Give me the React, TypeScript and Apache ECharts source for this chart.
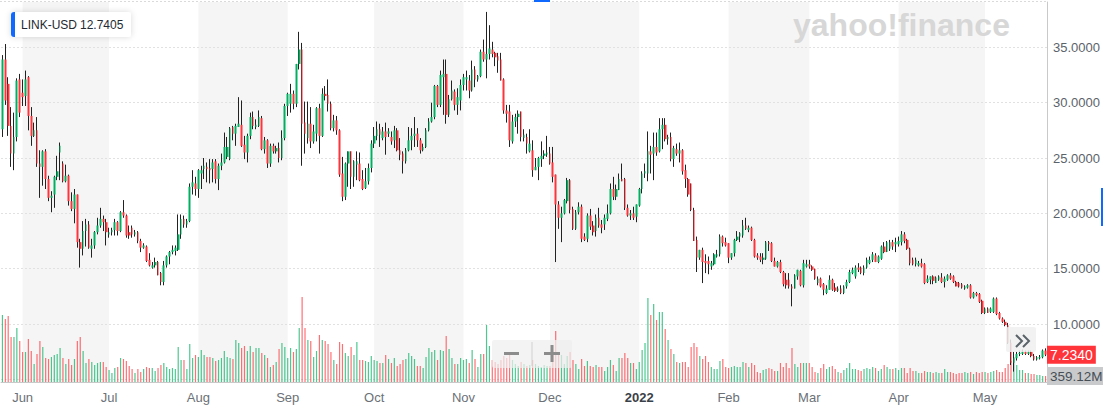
import React, { useEffect, useRef } from "react";
import * as echarts from "echarts";

// Each row: [open, close, low, high, volume (millions USD)]
type Row = [number, number, number, number, number];

const may21: Row[] = [
  [27.6, 33.9, 26.9, 34.3, 4020], [33.9, 30.2, 29.8, 35.3, 3780], [31.7, 27.9, 27.0, 32.3, 3960],
  [27.9, 25.4, 24.2, 29.6, 2700], [25.4, 26.9, 23.9, 29.1, 2700], [26.9, 32.0, 26.5, 32.2, 3240],
  [32.1, 29.1, 28.7, 32.6, 2460],
];
const jun21: Row[] = [
  [30.9, 30.5, 29.7, 32.1, 1800], [30.6, 32.1, 29.7, 32.9, 1800], [32.3, 28.8, 27.5, 32.4, 2580],
  [28.8, 27.0, 26.1, 29.6, 1860], [27.0, 27.5, 26.9, 28.2, 1080], [27.5, 24.5, 24.2, 28.7, 1680],
  [24.5, 24.2, 21.4, 25.7, 2460], [24.2, 25.6, 22.5, 25.7, 2100], [25.6, 23.1, 22.2, 25.8, 1440],
  [23.1, 21.4, 21.1, 23.4, 1380], [21.4, 21.6, 20.1, 22.0, 1500], [21.7, 23.3, 20.5, 23.4, 1620],
  [23.3, 23.8, 23.0, 25.2, 1680], [25.5, 26.1, 23.0, 26.4, 2040], [24.5, 22.9, 22.8, 24.7, 1440],
  [22.9, 23.4, 22.8, 24.4, 1080], [23.4, 21.1, 20.7, 23.5, 1380], [21.1, 20.4, 20.2, 21.9, 1020],
  [20.4, 21.7, 19.1, 22.2, 1380], [21.7, 17.4, 16.9, 21.7, 2460], [17.4, 16.8, 15.1, 17.7, 2700],
  [16.8, 18.4, 16.2, 19.3, 1860], [18.4, 19.0, 17.0, 19.5, 1140], [19.0, 16.9, 16.8, 19.3, 1380],
  [16.8, 17.1, 16.0, 17.7, 1200], [17.1, 18.3, 16.8, 18.4, 1020], [18.3, 18.9, 18.1, 19.6, 1140],
  [18.9, 19.5, 18.7, 20.5, 1200], [19.5, 19.2, 18.4, 19.8, 1200], [19.2, 18.3, 17.1, 19.5, 900],
];
const jul21: Row[] = [
  [18.1, 18.3, 17.8, 18.7, 720], [18.3, 18.5, 18.0, 18.7, 540], [18.5, 19.2, 18.0, 19.5, 840],
  [19.2, 18.4, 18.0, 19.3, 900], [18.4, 20.1, 18.3, 20.2, 1440], [20.1, 19.8, 19.6, 21.2, 1380],
  [19.8, 18.0, 17.8, 19.9, 1260], [18.3, 18.0, 17.7, 18.9, 960], [18.7, 18.1, 17.8, 18.9, 780],
  [18.1, 18.3, 17.9, 18.5, 540], [18.3, 17.5, 17.3, 18.4, 780], [17.5, 16.9, 16.5, 17.7, 600],
  [16.9, 17.1, 16.8, 17.3, 780], [17.0, 15.7, 15.6, 17.1, 900], [15.8, 15.3, 15.2, 16.4, 840],
  [15.1, 15.3, 15.0, 15.6, 840], [15.3, 15.6, 15.1, 16.0, 660], [15.6, 14.4, 14.4, 15.7, 840],
  [14.6, 13.8, 13.5, 14.7, 1020], [13.8, 15.3, 13.5, 15.7, 1140], [15.3, 16.1, 15.1, 16.2, 900],
  [16.1, 16.5, 15.4, 16.6, 780], [16.5, 16.7, 16.3, 17.1, 840], [16.6, 16.9, 16.2, 17.1, 780],
  [16.7, 18.1, 16.6, 19.9, 2100], [18.1, 19.5, 17.7, 19.9, 1320], [19.5, 19.0, 18.7, 19.8, 1320],
  [19.0, 19.3, 18.7, 19.5, 780], [19.3, 22.4, 19.2, 22.7, 2280], [22.4, 22.8, 21.7, 23.9, 1440],
  [22.7, 22.2, 21.6, 23.3, 1620],
];
const aug21: Row[] = [
  [22.2, 23.9, 21.4, 24.0, 1500], [23.6, 23.9, 22.2, 24.3, 1920], [24.0, 24.3, 23.1, 25.0, 1620],
  [24.2, 24.0, 22.8, 24.6, 1500], [24.1, 23.9, 22.7, 24.9, 1500], [24.0, 24.6, 22.8, 24.9, 1440],
  [24.7, 23.1, 22.7, 24.9, 1260], [23.1, 24.3, 22.1, 24.5, 1320], [24.3, 24.6, 23.9, 25.4, 1440],
  [24.6, 26.0, 24.5, 27.3, 1860], [25.1, 26.0, 24.9, 26.9, 1500], [24.9, 27.7, 24.8, 27.8, 1440],
  [27.8, 27.2, 26.6, 27.9, 1380], [27.2, 27.9, 26.1, 28.1, 2520], [27.8, 28.1, 27.8, 30.5, 2340],
  [28.0, 26.1, 26.0, 30.2, 2040], [26.2, 25.5, 24.9, 27.0, 2160], [25.5, 27.0, 24.6, 27.2, 1860],
  [27.0, 28.7, 26.7, 29.1, 2160], [28.7, 27.9, 27.6, 29.2, 1800], [27.8, 28.0, 27.6, 28.5, 2040],
  [27.9, 28.7, 27.8, 29.3, 2040], [28.6, 25.8, 25.7, 28.8, 1740], [25.8, 26.6, 25.4, 26.9, 1620],
  [26.6, 24.5, 24.1, 26.7, 1440], [24.5, 26.1, 24.2, 26.3, 900], [26.1, 25.6, 25.4, 26.3, 1020],
  [25.6, 25.9, 25.4, 26.1, 1200], [25.9, 25.0, 24.6, 26.4, 1980], [25.0, 26.8, 24.8, 27.5, 2340],
  [26.8, 29.7, 26.6, 29.9, 2100],
];
const sep21: Row[] = [
  [29.7, 30.8, 28.8, 30.9, 1440], [29.9, 30.8, 29.1, 31.7, 2040], [30.8, 29.9, 29.4, 31.1, 1800],
  [29.9, 33.5, 29.6, 33.5, 1980], [33.5, 34.8, 33.0, 36.4, 3240], [34.8, 28.1, 24.3, 35.4, 5100],
  [28.2, 27.2, 25.4, 30.1, 3240], [26.8, 28.1, 26.3, 30.1, 2520], [28.1, 26.5, 25.9, 29.6, 2460],
  [26.5, 27.4, 26.3, 28.0, 1500], [27.2, 29.5, 26.5, 29.6, 1860], [29.5, 27.0, 25.4, 29.9, 2820],
  [27.0, 30.8, 26.9, 31.3, 2520], [30.8, 30.6, 30.2, 31.5, 2460], [30.7, 29.9, 29.2, 32.1, 2280],
  [29.9, 27.7, 27.5, 30.1, 1800], [27.7, 28.4, 27.4, 28.9, 1320], [28.4, 27.5, 27.1, 28.8, 1080],
  [27.5, 23.5, 23.3, 27.6, 2400], [23.6, 21.5, 21.1, 25.1, 2280], [21.5, 24.5, 21.2, 24.6, 1740],
  [24.5, 25.6, 22.4, 25.6, 1560], [25.6, 23.3, 22.2, 25.6, 2100], [23.3, 24.7, 22.4, 24.8, 1620],
  [24.4, 24.7, 23.0, 25.6, 2400], [24.5, 23.0, 22.9, 25.5, 1320], [23.1, 22.2, 22.1, 23.9, 1320],
  [22.3, 22.9, 22.2, 24.1, 1260], [22.9, 24.1, 22.6, 24.5, 1200], [24.1, 26.3, 23.7, 26.6, 1560],
];
const oct21: Row[] = [
  [26.3, 27.0, 25.9, 27.8, 1320], [27.0, 27.6, 26.6, 28.3, 1260], [27.6, 27.1, 26.0, 28.1, 1140],
  [26.8, 27.4, 26.6, 27.8, 1140], [27.4, 26.9, 25.3, 28.2, 1620], [27.2, 27.4, 26.9, 27.7, 1380],
  [26.9, 26.5, 26.2, 27.4, 1140], [26.6, 27.5, 25.9, 27.9, 1440], [27.5, 25.7, 25.6, 27.7, 960],
  [25.7, 25.3, 24.8, 26.8, 1080], [25.4, 24.7, 23.6, 25.6, 1320], [24.7, 25.7, 24.5, 25.9, 1380],
  [25.7, 26.6, 25.6, 27.8, 1740], [26.6, 27.0, 25.7, 27.7, 1560], [27.0, 27.2, 26.0, 28.7, 1380],
  [27.2, 26.6, 26.0, 27.7, 960], [26.6, 25.7, 25.4, 26.8, 960], [25.7, 26.0, 25.6, 26.3, 840],
  [26.0, 27.5, 25.9, 27.7, 1500], [27.5, 28.3, 27.4, 28.6, 2040], [28.3, 28.7, 28.2, 30.0, 1800],
  [28.7, 31.5, 28.5, 31.6, 1920], [31.5, 29.8, 29.6, 31.6, 1320], [29.8, 32.5, 29.6, 32.9, 1920],
  [32.3, 32.6, 28.9, 33.9, 1860], [32.6, 28.9, 28.1, 33.9, 2760], [28.9, 30.3, 28.7, 30.7, 1980],
  [30.3, 31.1, 30.2, 32.0, 1440], [31.0, 29.8, 29.3, 31.2, 1080], [29.8, 30.5, 28.9, 31.3, 1080],
  [30.2, 31.6, 29.3, 32.1, 1440],
];
const nov21: Row[] = [
  [31.6, 32.3, 31.1, 32.6, 1320], [32.1, 32.3, 31.1, 32.9, 1380], [32.0, 31.1, 30.4, 32.5, 1140],
  [31.1, 33.0, 31.0, 33.8, 1920], [33.0, 32.1, 31.4, 33.3, 1380], [32.1, 32.4, 31.9, 32.5, 900],
  [32.4, 34.6, 32.3, 34.8, 1680], [34.6, 33.9, 33.7, 35.7, 1680], [33.9, 34.4, 32.2, 38.2, 3420],
  [34.4, 34.9, 33.9, 37.0, 2160], [34.8, 34.4, 34.1, 35.5, 1320], [34.5, 34.1, 33.3, 34.6, 1200],
  [34.2, 33.8, 32.7, 34.5, 1080], [33.9, 32.0, 32.0, 34.5, 1320], [32.1, 29.3, 29.0, 32.2, 1560],
  [29.3, 29.0, 28.2, 29.8, 1440], [29.2, 26.6, 26.0, 29.8, 1680], [26.5, 28.3, 26.3, 28.9, 1320],
  [28.3, 28.7, 27.8, 29.0, 1080], [28.7, 29.0, 27.2, 29.3, 960], [29.2, 26.9, 26.5, 29.2, 1200],
  [26.8, 27.1, 26.5, 27.6, 1080], [26.9, 26.3, 25.4, 27.2, 960], [25.6, 26.3, 25.5, 27.6, 1020],
  [25.7, 23.9, 23.3, 26.6, 1320], [23.9, 24.2, 23.9, 25.0, 1080], [24.2, 25.0, 23.0, 25.1, 960],
  [24.9, 25.2, 24.2, 26.5, 900], [25.2, 25.4, 24.9, 25.7, 1020], [25.3, 25.5, 25.1, 27.0, 960],
];
const dec21: Row[] = [
  [25.4, 24.5, 24.4, 26.0, 960], [24.6, 23.3, 22.8, 26.0, 1740], [23.5, 20.8, 15.6, 23.5, 3060],
  [20.8, 19.6, 18.6, 21.1, 1740], [19.6, 20.0, 17.4, 20.6, 1620], [20.0, 21.2, 19.9, 21.3, 1080],
  [21.1, 23.0, 20.9, 23.2, 1560], [23.0, 20.3, 20.0, 23.1, 1800], [20.4, 18.6, 18.5, 20.6, 1320],
  [18.6, 20.1, 18.5, 20.3, 1080], [20.1, 20.6, 19.9, 21.0, 780], [20.6, 17.7, 17.4, 20.8, 1380],
  [17.9, 17.6, 17.5, 18.2, 960], [17.7, 19.8, 17.4, 20.0, 1260], [19.8, 18.8, 18.5, 20.4, 960],
  [18.9, 18.3, 18.0, 19.3, 900], [18.4, 19.6, 17.9, 19.9, 1020], [19.6, 18.9, 18.7, 20.5, 900],
  [19.0, 18.7, 18.2, 19.4, 900], [19.0, 19.6, 18.5, 19.9, 660], [19.5, 20.0, 19.3, 20.8, 900],
  [20.0, 22.2, 19.9, 22.7, 1320], [22.2, 21.5, 21.2, 23.3, 1020], [21.5, 22.2, 21.2, 22.6, 660],
  [22.1, 23.1, 22.1, 23.6, 1440], [23.1, 22.9, 22.9, 24.5, 1440], [23.1, 20.5, 20.3, 23.2, 1740],
  [20.5, 19.8, 19.7, 20.8, 1440], [19.8, 20.0, 19.4, 20.3, 1140], [20.0, 19.6, 19.4, 20.6, 1140],
  [19.7, 20.8, 19.2, 20.8, 780],
];
const jan22: Row[] = [
  [20.7, 22.2, 20.6, 22.3, 1200], [22.2, 23.6, 21.8, 23.8, 1920], [23.6, 23.8, 23.2, 24.5, 2340],
  [23.6, 25.6, 22.9, 27.4, 5040], [25.6, 25.3, 23.6, 26.1, 4020], [25.4, 26.0, 23.0, 27.3, 4680],
  [26.0, 25.5, 25.2, 27.3, 3720], [25.6, 27.6, 25.5, 28.6, 4200], [27.6, 28.0, 25.8, 28.6, 4200],
  [28.0, 26.7, 26.5, 28.6, 3180], [26.7, 26.9, 26.2, 27.1, 2520], [26.9, 24.9, 24.7, 27.3, 1980],
  [24.9, 25.9, 24.2, 26.1, 1680], [25.8, 25.4, 25.2, 26.3, 1200], [25.4, 25.7, 24.6, 26.4, 1140],
  [25.7, 23.8, 23.5, 25.8, 1200], [23.9, 23.1, 22.3, 24.4, 1200], [23.1, 21.7, 21.5, 23.2, 900],
  [22.7, 20.3, 20.2, 22.7, 2100], [20.3, 17.5, 17.5, 20.5, 2340], [17.6, 16.0, 14.7, 17.9, 2100],
  [16.0, 16.7, 15.8, 16.7, 1560], [16.7, 15.6, 13.7, 16.9, 1380], [15.7, 15.5, 14.6, 16.3, 1560],
  [15.7, 15.4, 14.5, 16.1, 1200], [15.2, 15.5, 14.9, 15.7, 900], [15.4, 16.3, 15.3, 16.4, 780],
  [16.1, 16.3, 16.0, 16.7, 780], [16.3, 17.9, 16.1, 18.1, 1260], [17.9, 17.3, 17.0, 18.0, 1380],
  [17.4, 17.1, 17.0, 17.8, 900],
];
const feb22: Row[] = [
  [17.3, 16.0, 15.5, 17.3, 840], [16.0, 16.4, 15.8, 16.4, 900], [16.4, 17.6, 16.1, 17.7, 960],
  [17.6, 17.9, 17.5, 18.4, 900], [17.9, 18.2, 17.4, 18.3, 900], [18.0, 18.9, 17.8, 19.4, 1200],
  [18.9, 18.6, 18.5, 19.6, 1140], [18.5, 18.7, 18.3, 18.9, 900], [18.7, 17.6, 17.5, 18.8, 1140],
  [17.6, 16.1, 16.0, 17.7, 1020], [16.2, 16.0, 15.8, 16.4, 600], [16.1, 15.8, 15.6, 16.4, 540],
  [15.8, 16.0, 15.4, 16.4, 720], [15.9, 17.4, 15.8, 17.5, 780], [17.4, 17.2, 16.6, 17.5, 840],
  [17.3, 15.7, 15.6, 17.4, 780], [15.7, 15.2, 15.2, 16.0, 660], [15.2, 15.6, 15.1, 15.7, 660],
  [15.6, 14.7, 14.6, 15.8, 1140], [14.7, 13.6, 13.4, 14.8, 900], [14.0, 13.5, 13.2, 14.6, 1140],
  [14.0, 13.4, 13.2, 14.6, 840], [13.4, 13.2, 11.6, 13.6, 2040], [13.2, 14.4, 13.2, 14.5, 1080],
  [14.3, 14.9, 14.0, 14.9, 900], [14.8, 13.5, 13.4, 14.9, 1140], [13.5, 15.5, 13.3, 15.8, 1140],
  [15.2, 15.4, 15.1, 15.8, 1140],
];
const mar22: Row[] = [
  [15.4, 15.2, 15.0, 15.8, 1140], [15.2, 14.9, 14.8, 15.3, 900], [15.0, 14.1, 14.0, 15.0, 600],
  [13.7, 14.1, 13.5, 14.3, 540], [14.1, 13.4, 13.3, 14.2, 840], [13.6, 13.1, 12.6, 13.7, 1080],
  [12.8, 13.2, 12.7, 13.5, 780], [13.1, 14.0, 13.1, 14.4, 900], [14.0, 13.1, 13.0, 14.1, 960],
  [13.3, 13.0, 12.9, 13.7, 780], [13.0, 13.2, 12.9, 13.4, 600], [13.2, 12.8, 12.7, 13.5, 540],
  [12.8, 13.4, 12.7, 13.5, 720], [13.4, 13.8, 13.2, 14.0, 840], [13.8, 14.7, 13.7, 14.9, 1140],
  [14.6, 14.9, 14.5, 15.1, 780], [14.3, 15.1, 14.1, 15.3, 780], [15.1, 14.9, 14.7, 15.5, 720],
  [15.1, 14.6, 14.5, 15.2, 660], [14.6, 15.1, 14.4, 15.3, 780], [15.1, 15.8, 15.0, 16.0, 840],
  [15.5, 15.8, 15.4, 16.1, 780], [15.8, 16.3, 15.6, 16.5, 900], [16.2, 15.6, 15.6, 16.4, 840],
  [15.6, 16.1, 15.5, 16.2, 660], [15.9, 17.0, 15.8, 17.1, 780], [17.0, 16.5, 16.4, 17.4, 1020],
  [16.5, 17.4, 16.5, 17.5, 900], [16.8, 17.4, 16.6, 17.6, 780], [17.4, 17.0, 16.7, 17.6, 780],
  [17.2, 17.4, 16.5, 17.8, 840],
];
const apr22: Row[] = [
  [17.2, 17.5, 17.0, 17.9, 720], [17.4, 18.1, 17.1, 18.4, 840], [18.1, 17.5, 17.3, 18.3, 840],
  [17.6, 16.8, 16.7, 17.7, 540], [16.8, 15.5, 15.3, 16.9, 840], [15.8, 15.4, 15.3, 16.0, 660],
  [15.4, 15.8, 15.2, 16.0, 660], [15.3, 15.5, 15.2, 15.7, 540], [15.5, 15.2, 15.1, 15.9, 540],
  [15.4, 13.7, 13.6, 15.5, 660], [13.8, 14.1, 13.7, 14.4, 600], [14.0, 14.3, 13.6, 14.3, 600],
  [14.3, 13.9, 13.6, 14.4, 540], [13.7, 14.2, 13.7, 14.3, 600], [14.0, 14.3, 13.9, 14.4, 540],
  [14.2, 13.8, 13.7, 14.6, 540], [13.8, 14.1, 13.3, 14.3, 780], [14.0, 14.4, 13.9, 14.5, 600],
  [14.4, 14.1, 14.0, 14.6, 600], [14.3, 13.8, 13.7, 14.4, 540], [13.8, 13.4, 13.4, 13.9, 480],
  [13.7, 13.4, 13.3, 13.8, 540], [13.6, 13.3, 13.2, 13.7, 540], [13.2, 13.4, 13.1, 13.5, 600],
  [13.3, 13.5, 13.2, 13.6, 540], [13.5, 12.4, 12.3, 13.6, 600], [12.4, 12.8, 12.3, 12.9, 480],
  [12.8, 12.6, 12.5, 12.9, 600], [12.7, 12.0, 11.9, 12.8, 540], [12.1, 11.0, 10.9, 12.2, 600],
];
const may22: Row[] = [
  [11.0, 11.4, 10.9, 11.5, 600], [11.4, 11.0, 11.0, 11.5, 540], [11.1, 11.4, 11.0, 11.5, 600],
  [11.1, 12.3, 11.0, 12.4, 660], [12.3, 10.9, 10.8, 12.4, 720], [11.0, 10.5, 10.4, 11.1, 600],
  [10.5, 10.2, 10.1, 10.6, 600], [10.2, 9.9, 9.8, 10.4, 840], [9.9, 8.3, 8.2, 10.1, 1080],
  [8.3, 6.5, 6.3, 8.6, 1260], [6.5, 6.9, 5.7, 7.5, 1500], [6.9, 7.3, 6.7, 7.5, 1020],
  [7.3, 7.4, 7.1, 7.6, 720], [7.3, 7.5, 7.2, 7.7, 720], [7.5, 7.3, 7.2, 7.6, 540],
  [7.3, 7.5, 7.2, 7.6, 540], [7.5, 7.1, 7.0, 7.6, 480], [7.1, 6.8, 6.7, 7.3, 480],
  [6.8, 7.0, 6.7, 7.1, 420], [6.9, 7.0, 6.8, 7.2, 420], [7.0, 7.6, 6.9, 7.7, 360],
  [7.6, 7.234, 7.1, 7.8, 359.12],
];

const months = [
  { year: 2021, month: 5, firstDay: 25, rows: may21 },
  { year: 2021, month: 6, firstDay: 1, rows: jun21 },
  { year: 2021, month: 7, firstDay: 1, rows: jul21 },
  { year: 2021, month: 8, firstDay: 1, rows: aug21 },
  { year: 2021, month: 9, firstDay: 1, rows: sep21 },
  { year: 2021, month: 10, firstDay: 1, rows: oct21 },
  { year: 2021, month: 11, firstDay: 1, rows: nov21 },
  { year: 2021, month: 12, firstDay: 1, rows: dec21 },
  { year: 2022, month: 1, firstDay: 1, rows: jan22 },
  { year: 2022, month: 2, firstDay: 1, rows: feb22 },
  { year: 2022, month: 3, firstDay: 1, rows: mar22 },
  { year: 2022, month: 4, firstDay: 1, rows: apr22 },
  { year: 2022, month: 5, firstDay: 1, rows: may22 },
];

const monthNames = ["Jan", "Feb", "Mar", "Apr", "May", "Jun", "Jul", "Aug", "Sep", "Oct", "Nov", "Dec"];

// shaded month bands (alternate months)
const shadedBands: [string, string][] = [
  ["2021-06-01", "2021-07-01"],
  ["2021-08-01", "2021-09-01"],
  ["2021-10-01", "2021-11-01"],
  ["2021-12-01", "2022-01-01"],
  ["2022-02-01", "2022-03-01"],
  ["2022-04-01", "2022-05-01"],
];

const ticker = "LINK-USD";
const legendValue = "12.7405";
const priceTicks = { min: 0, max: 40, interval: 5 };

const pad = (n: number) => String(n).padStart(2, "0");
const categories: string[] = [];
const ohlc: number[][] = [];
const volumes: number[] = [];
months.forEach((m) => {
  m.rows.forEach((r, i) => {
    categories.push(`${m.year}-${pad(m.month)}-${pad(m.firstDay + i)}`);
    ohlc.push([r[0], r[1], r[2], r[3]]);
    volumes.push(r[4]);
  });
});

const UP = "#00b061";
const DOWN = "#ff333a";
const FONT = '"Liberation Sans", Arial, Helvetica, sans-serif';
const TOP_Z = 50;

const txt = (text: string, x: number, y: number, extra: any = {}) => ({
  type: "text",
  silent: true,
  z: TOP_Z + 1,
  x,
  y,
  style: {
    text,
    fill: "#232a31",
    fontSize: 12,
    fontFamily: FONT,
    align: "left",
    textAlign: "left",
    verticalAlign: "middle",
    textVerticalAlign: "middle",
    ...extra,
  },
});

export default function App() {
  const ref = useRef<HTMLDivElement>(null);

  useEffect(() => {
    if (!ref.current) return;
    const chart = echarts.init(ref.current, undefined, { renderer: "svg" });
    const isMonthStart = (_i: number, v: string) => v.endsWith("-01");
    const last = ohlc[ohlc.length - 1];
    const lastVol = volumes[volumes.length - 1];

    chart.setOption({
      animation: false,
      backgroundColor: "#ffffff",
      textStyle: { fontFamily: FONT },
      grid: [
        { left: 1, top: -8.0, width: 1046, height: 442.7, outerBoundsMode: "none", containLabel: false },
        { left: 1, top: 2, width: 1046, height: 380, outerBoundsMode: "none", containLabel: false },
      ],
      xAxis: [
        {
          type: "category",
          gridIndex: 0,
          data: categories,
          show: false,
          boundaryGap: true,
        },
        {
          type: "category",
          gridIndex: 1,
          data: categories,
          boundaryGap: true,
          z: 3,
          axisLine: { lineStyle: { color: "#c9c9c9", width: 1 } },
          axisTick: {
            alignWithLabel: true,
            interval: isMonthStart,
            length: 4,
            lineStyle: { color: "#c9c9c9" },
          },
          axisLabel: {
            interval: isMonthStart,
            margin: 9,
            fontSize: 13,
            color: "#6b7177",
            fontFamily: FONT,
            formatter: (v: string) => {
              const [y, mo] = v.split("-");
              if (mo === "01") return `{yr|${y}}`;
              return monthNames[parseInt(mo, 10) - 1];
            },
            rich: { yr: { fontSize: 13, fontWeight: "bold", color: "#3b4148", fontFamily: FONT } },
          },
          splitLine: { show: false },
        },
      ],
      yAxis: [
        {
          type: "value",
          gridIndex: 0,
          position: "right",
          min: priceTicks.min,
          max: priceTicks.max,
          interval: priceTicks.interval,
          z: 2,
          axisLine: { show: false },
          axisTick: { show: false },
          axisLabel: {
            margin: 6,
            fontSize: 13,
            color: "#5b636a",
            fontFamily: FONT,
            formatter: (v: number) =>
              v === priceTicks.min || v === priceTicks.max ? "" : v.toFixed(4),
          },
          splitLine: { lineStyle: { color: "#e1e1e1", type: [2, 2], width: 1 } },
        },
        {
          type: "value",
          gridIndex: 1,
          position: "right",
          min: 0,
          max: 22800,
          z: 3,
          axisLine: { show: true, lineStyle: { color: "#c9c9c9" } },
          axisTick: { show: false },
          axisLabel: { show: false },
          splitLine: { show: false },
        },
      ],
      series: [
        {
          name: "bands",
          type: "line",
          xAxisIndex: 1,
          yAxisIndex: 1,
          data: volumes,
          showSymbol: false,
          symbol: "none",
          silent: true,
          lineStyle: { color: "transparent", width: 0 },
          z: 0,
          markArea: {
            silent: true,
            z: 0,
            itemStyle: { color: "#f5f5f5" },
            data: shadedBands.map(([a, b]) => [{ xAxis: a }, { xAxis: b }]),
          },
        },
        {
          name: "Volume",
          type: "bar",
          xAxisIndex: 1,
          yAxisIndex: 1,
          barWidth: 1.2,
          z: 4,
          silent: true,
          data: volumes.map((v, i) => ({
            value: v,
            itemStyle: { color: ohlc[i][1] >= ohlc[i][0] ? UP : DOWN, opacity: 0.7 },
          })),
          markLine: {
            silent: true,
            z: 30,
            symbol: ["none", "none"],
            lineStyle: { color: "transparent", width: 0 },
            label: {
              show: true,
              position: "end",
              distance: 0,
              formatter: () => `${lastVol.toFixed(2)}M`,
              backgroundColor: "#c9cacb",
              color: "#464e56",
              fontSize: 13.5,
              fontFamily: FONT,
              padding: [2, 3, 2, 3],
            },
            data: [{ yAxis: lastVol }],
          },
        },
        {
          name: "wicks",
          type: "candlestick",
          xAxisIndex: 0,
          yAxisIndex: 0,
          barWidth: 0.1,
          z: 5,
          silent: true,
          data: ohlc,
          itemStyle: {
            color: "#222",
            color0: "#222",
            borderColor: "#222",
            borderColor0: "#222",
            borderWidth: 1,
          },
        },
        {
          name: ticker,
          type: "candlestick",
          xAxisIndex: 0,
          yAxisIndex: 0,
          barWidth: 2.2,
          z: 6,
          silent: true,
          data: ohlc.map(([o, c]) => [o, c, Math.min(o, c), Math.max(o, c)]),
          itemStyle: {
            color: UP,
            color0: DOWN,
            borderColor: UP,
            borderColor0: DOWN,
            borderWidth: 0,
          },
          markLine: {
            silent: true,
            z: 30,
            symbol: ["none", "none"],
            lineStyle: { color: "transparent", width: 0 },
            label: {
              show: true,
              position: "end",
              distance: 0,
              formatter: () => last[1].toFixed(4),
              backgroundColor: DOWN,
              color: "#ffffff",
              fontSize: 14,
              fontFamily: FONT,
              padding: [2, 3, 2, 3],
            },
            data: [{ yAxis: last[1] }],
          },
        },
      ],
      graphic: [
        {
          type: "line",
          silent: true,
          z: TOP_Z,
          shape: { x1: 0, y1: 1.5, x2: 1047, y2: 1.5 },
          style: { stroke: "#dadada", lineWidth: 1, lineDash: [2, 2] },
        },
        { type: "rect", silent: true, z: TOP_Z, shape: { x: 534, y: 0, width: 16, height: 2 }, style: { fill: "#0f69ff" } },
        { type: "rect", silent: true, z: TOP_Z, shape: { x: 1101, y: 188, width: 2, height: 38 }, style: { fill: "#0f69ff" } },
        txt("yahoo!finance", 793, 25, { fill: "#d7d7d7", fontSize: 32, fontWeight: "bold" }),
        {
          type: "rect",
          silent: true,
          z: TOP_Z,
          shape: { x: 11, y: 12, width: 120, height: 25, r: 3 },
          style: { fill: "#ffffff", shadowBlur: 6, shadowColor: "rgba(0,0,0,0.15)" },
        },
        {
          type: "rect",
          silent: true,
          z: TOP_Z + 1,
          shape: { x: 11, y: 12, width: 4, height: 25, r: [3, 0, 0, 3] },
          style: { fill: "#0f69ff" },
        },
        txt(ticker, 21, 24.5),
        txt(legendValue, 80, 24.5),
        {
          type: "rect",
          silent: true,
          z: TOP_Z,
          shape: { x: 492, y: 340, width: 80, height: 28, r: 2 },
          style: { fill: "rgba(238,238,238,0.72)" },
        },
        {
          type: "line",
          silent: true,
          z: TOP_Z + 1,
          shape: { x1: 532, y1: 342, x2: 532, y2: 366 },
          style: { stroke: "rgba(200,200,200,0.8)", lineWidth: 1 },
        },
        { type: "rect", silent: true, z: TOP_Z + 1, shape: { x: 504, y: 352, width: 15, height: 3 }, style: { fill: "#8c8c8c" } },
        { type: "rect", silent: true, z: TOP_Z + 1, shape: { x: 544, y: 352, width: 16, height: 3 }, style: { fill: "#8c8c8c" } },
        { type: "rect", silent: true, z: TOP_Z + 1, shape: { x: 550.5, y: 345, width: 3, height: 17 }, style: { fill: "#8c8c8c" } },
        {
          type: "rect",
          silent: true,
          z: TOP_Z,
          shape: { x: 1006, y: 327, width: 30, height: 25, r: 2 },
          style: { fill: "rgba(240,240,240,0.85)" },
        },
        {
          type: "polyline",
          silent: true,
          z: TOP_Z + 1,
          shape: { points: [[1016, 335], [1022, 341], [1016, 347]] },
          style: { stroke: "#5b636a", lineWidth: 2, fill: "none" },
        },
        {
          type: "polyline",
          silent: true,
          z: TOP_Z + 1,
          shape: { points: [[1023, 335], [1029, 341], [1023, 347]] },
          style: { stroke: "#5b636a", lineWidth: 2, fill: "none" },
        },
      ],
    });

    return () => chart.dispose();
  }, []);

  return (
    <div
      ref={ref}
      style={{ position: "fixed", left: 0, top: 0, width: 1103, height: 414, background: "#fff" }}
    />
  );
}
